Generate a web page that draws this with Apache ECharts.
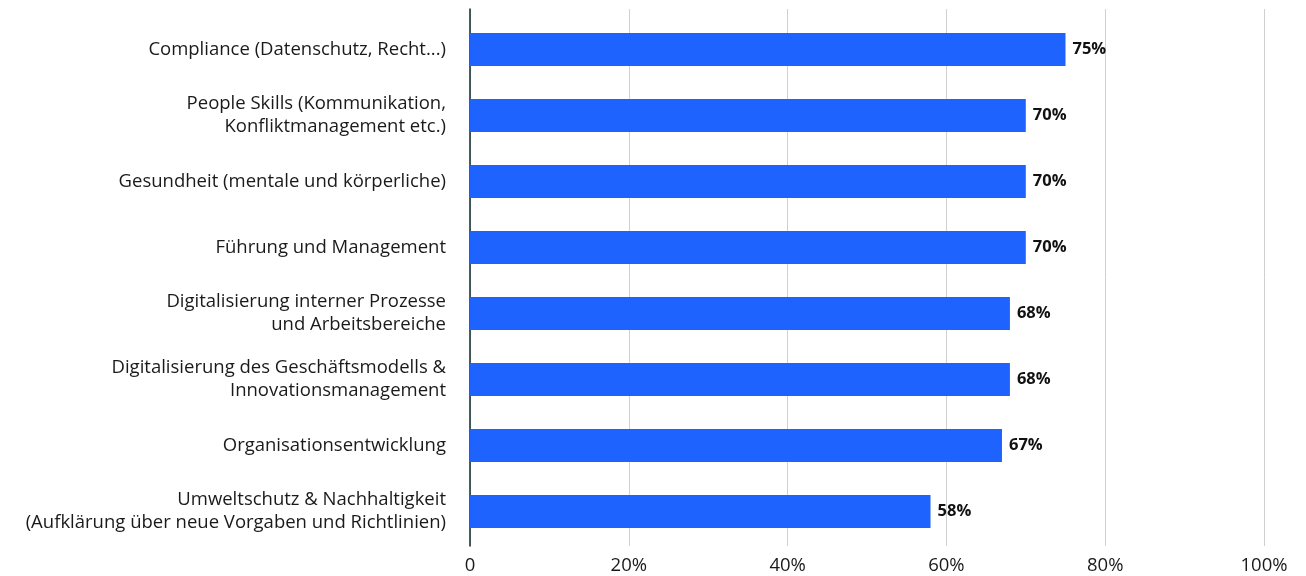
<!DOCTYPE html>
<html><head><meta charset="utf-8">
<script src="https://cdn.jsdelivr.net/npm/echarts@6/dist/echarts.min.js"></script>
<style>html,body{margin:0;padding:0;background:#fff}#c{width:1306px;height:576px}</style>
</head><body><div id="c"></div>
<script>
const categories = [
  "Compliance (Datenschutz, Recht...)",
  "People Skills (Kommunikation,\nKonfliktmanagement etc.)",
  "Gesundheit (mentale und körperliche)",
  "Führung und Management",
  "Digitalisierung interner Prozesse\nund Arbeitsbereiche",
  "Digitalisierung des Geschäftsmodells &\nInnovationsmanagement",
  "Organisationsentwicklung",
  "Umweltschutz & Nachhaltigkeit\n(Aufklärung über neue Vorgaben und Richtlinien)"
];
const values = [75, 70, 70, 70, 68, 68, 67, 58];
const tickValues = [0, 20, 40, 60, 80, 100];

const FONT = "Open Sans";
const chart = echarts.init(document.getElementById('c'), null, {renderer: 'canvas'});
chart.setOption({
  animation: false,
  textStyle: {fontFamily: FONT},
  grid: [
    {left: 470, right: 42, top: 9, bottom: 30, containLabel: false},
    {left: 470, right: 42, top: 16.5, bottom: 31.5, containLabel: false}
  ],
  xAxis: [
    {gridIndex: 0, type: 'value', min: 0, max: 100, interval: 20,
     axisLine: {show: false}, axisTick: {show: false},
     splitLine: {show: true, lineStyle: {color: '#d0d0d0', width: 1}},
     axisLabel: {fontFamily: FONT, fontSize: 18.5, color: '#1a1a1a', margin: 10,
       formatter: v => tickValues.includes(v) ? (v === 0 ? '0' : v + '%') : ''}},
    {gridIndex: 1, type: 'value', min: 0, max: 100, interval: 20, show: false}
  ],
  yAxis: [
    {gridIndex: 0, type: 'category', data: [''], inverse: true,
     axisLine: {show: true, onZero: false, lineStyle: {color: '#0e2a2c', width: 1.5}},
     axisTick: {show: false}, axisLabel: {show: false}, splitLine: {show: false}},
    {gridIndex: 1, type: 'category', data: categories, inverse: true,
     axisLine: {show: false}, axisTick: {show: false},
     axisLabel: {fontFamily: FONT, fontSize: 18.5, color: '#1a1a1a', margin: 24,
       lineHeight: 23, align: 'right', padding: [1, 0, 0, 0]}}
  ],
  series: [{
    type: 'bar', xAxisIndex: 1, yAxisIndex: 1, data: values,
    barWidth: 33,
    itemStyle: {color: '#1f63ff'},
    label: {show: true, position: 'right', distance: 7, formatter: p => p.value + '%',
      fontFamily: FONT, fontSize: 16.5, fontWeight: 'bold', color: '#111'}
  }]
});
</script></body></html>
